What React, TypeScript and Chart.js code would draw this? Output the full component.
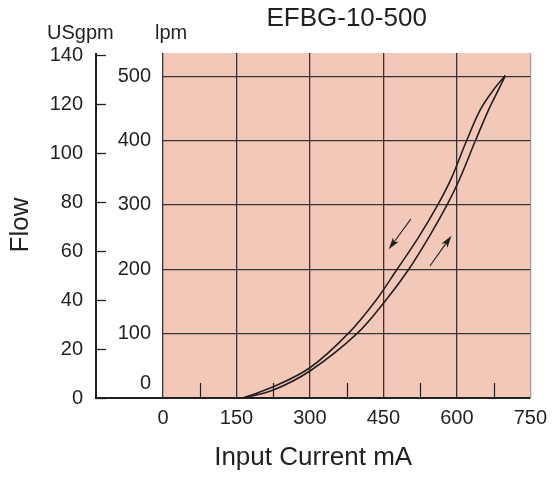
import { useEffect, useRef } from "react";
import { Chart, registerables } from "chart.js";

Chart.register(...registerables);

// ---- data ----
const chartTitle = "EFBG-10-500";
const xAxisTitle = "Input Current mA";
const yAxisTitle = "Flow";
const gpmUnit = "USgpm";
const lpmUnit = "lpm";

const currentMin = 0;
const currentMax = 750;
const currentStep = 150;
const minorTickCurrents = [75, 225, 375, 525, 675];

const lpmMax = 536;
const lpmStep = 100;
const gpmMax = 141;
const gpmStep = 20;
const gpmTickValues = [0, 20, 40, 60, 80, 100, 120, 140];

// increasing current (lower / right curve)
const increasingCurrent = [163, 224, 300, 396, 455, 502, 543, 580, 605, 638, 665, 685, 699];
const increasingFlow = [0, 12, 42, 100, 152, 200, 250, 300, 339, 400, 448, 479, 501];
// decreasing current (upper / left curve)
const decreasingCurrent = [163, 224, 300, 378, 435, 478, 522, 561, 588, 620, 648, 675, 699];
const decreasingFlow = [0, 17, 47, 100, 152, 200, 250, 300, 340, 400, 448, 479, 501];

// arrows [tail, head]
const arrowDownCurrent = [506, 461];
const arrowDownFlow = [278, 231];
const arrowUpCurrent = [545, 589];
const arrowUpFlow = [205, 252];

const FONT = "'Liberation Sans', Arial, Helvetica, sans-serif";
const INK = "#231f20";
const PINK = "#f2c8b8";

function toPoints(xs: number[], ys: number[]) {
  return xs.map((x, i) => ({ x, y: ys[i] }));
}

const decorPlugin = {
  id: "decor",
  beforeDraw(chart: any) {
    const { ctx, chartArea } = chart;
    ctx.save();
    ctx.fillStyle = PINK;
    ctx.fillRect(chartArea.left, chartArea.top, chartArea.right - chartArea.left, chartArea.bottom - chartArea.top);
    ctx.restore();
  },
  afterDraw(chart: any) {
    const { ctx, chartArea } = chart;
    const xs = chart.scales.x;
    const ys = chart.scales.y;
    const g = chart.scales.y2;
    const axisX = Math.round(g.right);
    ctx.save();
    ctx.strokeStyle = INK;
    ctx.fillStyle = INK;

    // minor ticks on bottom
    ctx.lineWidth = 1.2;
    minorTickCurrents.forEach((v) => {
      const px = Math.round(xs.getPixelForValue(v)) + 0.5;
      ctx.beginPath();
      ctx.moveTo(px, chartArea.bottom);
      ctx.lineTo(px, chartArea.bottom - 15);
      ctx.stroke();
    });

    // gpm axis line and ticks
    ctx.lineWidth = 2;
    ctx.beginPath();
    ctx.moveTo(axisX, chartArea.top);
    ctx.lineTo(axisX, chartArea.bottom + 1);
    ctx.stroke();
    ctx.lineWidth = 1.3;
    gpmTickValues.forEach((v) => {
      const py = Math.round(g.getPixelForValue(v)) + 0.5;
      ctx.beginPath();
      ctx.moveTo(axisX, py);
      ctx.lineTo(axisX + 10, py);
      ctx.stroke();
    });

    // bottom axis line
    ctx.lineWidth = 2.2;
    ctx.beginPath();
    ctx.moveTo(axisX - 1, chartArea.bottom);
    ctx.lineTo(chartArea.right, chartArea.bottom);
    ctx.stroke();

    // arrows
    const drawArrow = (cx: number[], fy: number[]) => {
      const x1 = xs.getPixelForValue(cx[0]);
      const y1 = ys.getPixelForValue(fy[0]);
      const x2 = xs.getPixelForValue(cx[1]);
      const y2 = ys.getPixelForValue(fy[1]);
      const ang = Math.atan2(y2 - y1, x2 - x1);
      const hl = 12;
      const hw = 3.6;
      ctx.lineWidth = 1.1;
      ctx.beginPath();
      ctx.moveTo(x1, y1);
      ctx.lineTo(x2 - Math.cos(ang) * hl * 0.6, y2 - Math.sin(ang) * hl * 0.6);
      ctx.stroke();
      ctx.beginPath();
      ctx.moveTo(x2, y2);
      ctx.lineTo(x2 - Math.cos(ang) * hl + Math.sin(ang) * hw, y2 - Math.sin(ang) * hl - Math.cos(ang) * hw);
      ctx.lineTo(x2 - Math.cos(ang) * hl * 0.75, y2 - Math.sin(ang) * hl * 0.75);
      ctx.lineTo(x2 - Math.cos(ang) * hl - Math.sin(ang) * hw, y2 - Math.sin(ang) * hl + Math.cos(ang) * hw);
      ctx.closePath();
      ctx.fill();
    };
    drawArrow(arrowDownCurrent, arrowDownFlow);
    drawArrow(arrowUpCurrent, arrowUpFlow);

    // texts
    ctx.textBaseline = "alphabetic";
    ctx.textAlign = "center";
    ctx.font = `26px ${FONT}`;
    ctx.fillText(chartTitle, (chartArea.left + chartArea.right) / 2, 26);

    ctx.font = `20px ${FONT}`;
    ctx.textAlign = "left";
    ctx.fillText(gpmUnit, 47, 39);
    ctx.fillText(lpmUnit, 155, 39);

    // lpm zero label (raised above the axis)
    ctx.textAlign = "right";
    ctx.textBaseline = "middle";
    ctx.fillText("0", ys.right - 12, chartArea.bottom - 15);

    // x axis title, centred over the whole axis line
    ctx.font = `26px ${FONT}`;
    ctx.textAlign = "center";
    ctx.textBaseline = "middle";
    ctx.fillText(xAxisTitle, (axisX + chartArea.right) / 2, 458);

    // y axis title
    ctx.save();
    ctx.translate(21, 225);
    ctx.rotate(-Math.PI / 2);
    ctx.fillText(yAxisTitle, 0, 0);
    ctx.restore();

    ctx.restore();
  },
};

export default function App() {
  const canvasRef = useRef<HTMLCanvasElement | null>(null);

  useEffect(() => {
    const canvas = canvasRef.current;
    if (!canvas) return;
    const lineStyle = {
      borderColor: INK,
      borderWidth: 1.6,
      pointRadius: 0,
      fill: false,
      tension: 0.35,
      xAxisID: "x",
      yAxisID: "y",
    };
    const chart = new Chart(canvas, {
      type: "line",
      data: {
        datasets: [
          { label: "Increasing", data: toPoints(increasingCurrent, increasingFlow), ...lineStyle },
          { label: "Decreasing", data: toPoints(decreasingCurrent, decreasingFlow), ...lineStyle },
        ],
      },
      options: {
        responsive: false,
        animation: false,
        devicePixelRatio: 1,
        layout: { padding: { left: 0, top: 53, right: 23, bottom: 0 } },
        plugins: {
          legend: { display: false },
          tooltip: { enabled: false },
          title: { display: false },
        },
        scales: {
          x: {
            type: "linear",
            position: "bottom",
            min: currentMin,
            max: currentMax,
            border: { display: false },
            grid: {
              drawTicks: false,
              lineWidth: 1.3,
              color: (c: any) =>
                c.tick && c.tick.value === currentMax ? "rgba(110,90,85,0.55)" : "#3a3334",
            },
            ticks: {
              stepSize: currentStep,
              includeBounds: false,
              padding: 8,
              color: INK,
              font: { family: FONT, size: 20 },
              maxRotation: 0,
            },
            afterFit: (s: any) => {
              s.height = 79;
            },
          },
          y: {
            type: "linear",
            position: "left",
            min: 0,
            max: lpmMax,
            weight: 0,
            border: { display: false },
            grid: {
              drawTicks: false,
              lineWidth: 1.3,
              color: (c: any) => (c.tick && c.tick.value === 0 ? "rgba(0,0,0,0)" : "#3a3334"),
            },
            ticks: {
              stepSize: lpmStep,
              includeBounds: false,
              padding: 12,
              color: INK,
              font: { family: FONT, size: 20 },
              callback: (v: any) => (v === 0 ? "" : String(v)),
            },
            afterFit: (s: any) => {
              s.width = 67;
            },
          },
          y2: {
            type: "linear",
            position: "left",
            min: 0,
            max: gpmMax,
            weight: 1,
            border: { display: false },
            grid: { display: false, drawTicks: false },
            ticks: {
              stepSize: gpmStep,
              includeBounds: false,
              padding: 13,
              color: INK,
              font: { family: FONT, size: 20 },
            },
            afterFit: (s: any) => {
              s.width = 96;
            },
          },
        },
      } as any,
      plugins: [decorPlugin],
    });
    return () => chart.destroy();
  }, []);

  return (
    <div style={{ position: "absolute", left: 0, top: 0, width: 555, height: 477, background: "#fff" }}>
      <canvas ref={canvasRef} width={555} height={477} style={{ width: 555, height: 477, display: "block" }} />
    </div>
  );
}
